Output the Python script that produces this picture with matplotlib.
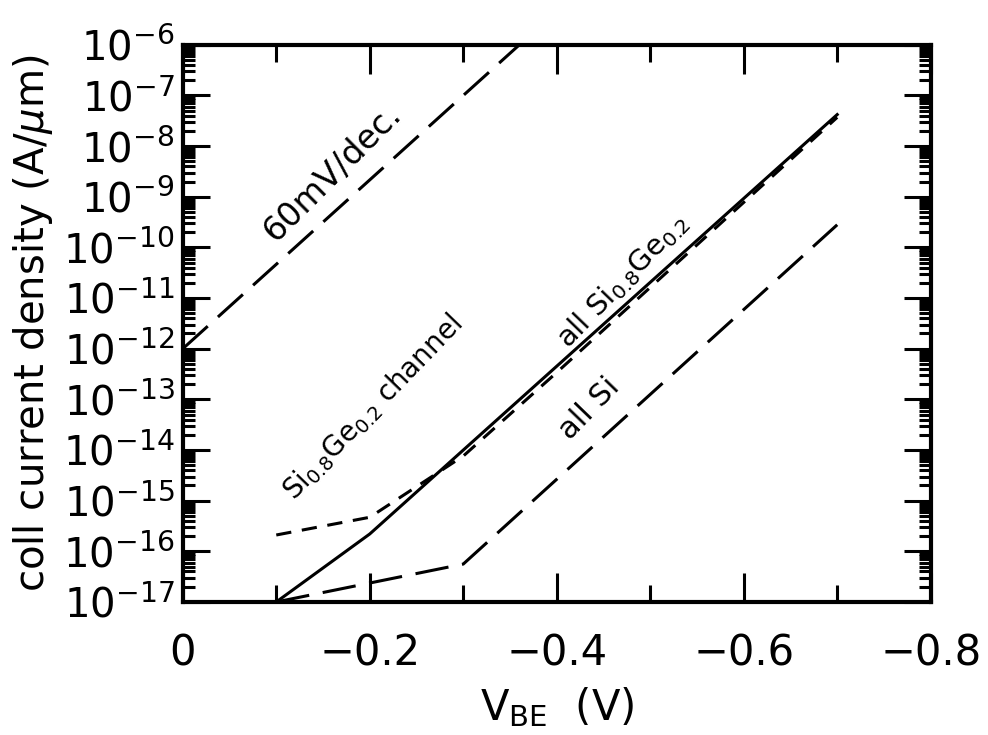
import matplotlib
matplotlib.use("Agg")
import matplotlib.pyplot as plt
from matplotlib.ticker import MultipleLocator, LogLocator, NullFormatter, FuncFormatter

plt.rcParams["font.family"] = ["DejaVu Sans"]
plt.rcParams["mathtext.fontset"] = "dejavusans"

# collector current density vs V_BE
vbe_60mv = [0.0, -0.36]
j_60mv = [1e-12, 1e-6]

vbe_all_sige = [-0.1, -0.2, -0.7]
j_all_sige = [1e-17, 2.2e-16, 4.2e-8]

vbe_sige_channel = [-0.1, -0.2, -0.3, -0.4, -0.7]
j_sige_channel = [2.1e-16, 4.7e-16, 7.6e-15, 3.4e-13, 3.7e-8]

vbe_all_si = [-0.1, -0.3, -0.7]
j_all_si = [1e-17, 5.6e-17, 2.8e-10]

fig = plt.figure(figsize=(9.88, 7.35), dpi=100)
ax = fig.add_axes([0.185, 0.181, 0.757, 0.758])

lw = 2.2
ax.plot(vbe_60mv, j_60mv, color="black", lw=lw, linestyle=(0, (11, 4.5)))
ax.plot(vbe_all_sige, j_all_sige, color="black", lw=lw, linestyle="-")
ax.plot(vbe_sige_channel, j_sige_channel, color="black", lw=lw, linestyle=(0, (5, 3.5)))
ax.plot(vbe_all_si, j_all_si, color="black", lw=lw, linestyle=(0, (11, 4.5)))

ax.set_yscale("log")
ax.set_xlim(0, -0.8)
ax.set_ylim(1e-17, 1e-6)

ax.xaxis.set_major_locator(MultipleLocator(0.2))
ax.xaxis.set_minor_locator(MultipleLocator(0.1))
ax.xaxis.set_major_formatter(FuncFormatter(lambda v, p: "0" if abs(v) < 1e-9 else f"{v:.1f}".replace("-", "\u2212")))
ax.yaxis.set_major_locator(LogLocator(base=10, numticks=20))
ax.yaxis.set_minor_locator(LogLocator(base=10, subs=range(2, 10), numticks=20))
ax.yaxis.set_minor_formatter(NullFormatter())

ax.tick_params(axis="both", which="both", direction="in", top=True, right=True, width=2.2, color="black")
ax.tick_params(axis="x", which="major", length=21, labelsize=30, pad=22)
ax.tick_params(axis="x", which="minor", length=12)
ax.tick_params(axis="y", which="major", length=19.5, labelsize=29, pad=6)
ax.tick_params(axis="y", which="minor", length=8.5)
for s in ax.spines.values():
    s.set_linewidth(3)

ax.set_xlabel(r"V$_{\mathrm{BE}}$  (V)", fontsize=30, labelpad=8)
ax.set_ylabel(r"coll current density (A/$\mu$m)", fontsize=29, labelpad=6)

ax.text(-0.16, 3e-9, "60mV/dec.", fontsize=24, rotation=45, ha="center", va="center")
ax.text(-0.203, 7e-14, r"Si$_{0.8}$Ge$_{0.2}$ channel", fontsize=20, rotation=46, ha="center", va="center")
ax.text(-0.47, 2.2e-11, r"all Si$_{0.8}$Ge$_{0.2}$", fontsize=21, rotation=46, ha="center", va="center")
ax.text(-0.435, 6.5e-14, "all Si", fontsize=22, rotation=46, ha="center", va="center")

fig.savefig("out.png", dpi=100)
